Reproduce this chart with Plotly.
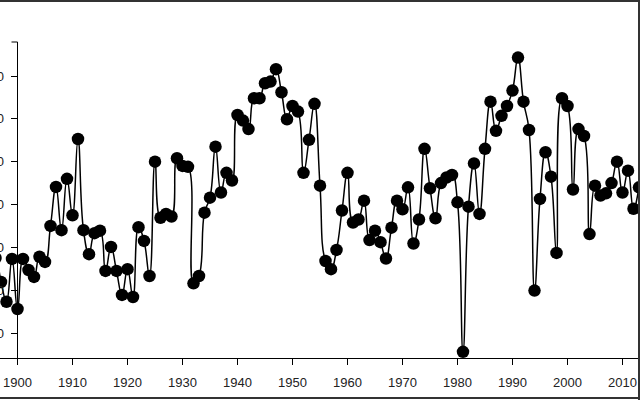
import plotly.graph_objects as go

# ---- data ----
years = list(range(1895, 2016))
values = [
    25.9, 27.5, 21.9, 17.3, 27.3, 15.6, 27.3, 24.7, 23.1, 27.8,  # 1895-1904
    26.6, 35.0, 44.1, 34.0, 46.0, 37.5, 55.3, 34.0, 28.4, 33.3,  # 1905-1914
    33.9, 24.5, 30.1, 24.5, 18.9, 24.9, 18.4, 34.7, 31.5, 23.3,  # 1915-1924
    50.0, 36.9, 37.8, 37.2, 50.8, 49.0, 48.8, 21.6, 23.3, 38.1,  # 1925-1934
    41.6, 53.5, 42.8, 47.4, 45.6, 60.9, 59.6, 57.6, 64.8, 64.8,  # 1935-1944
    68.3, 68.7, 71.6, 66.2, 59.9, 63.0, 61.7, 47.4, 55.1, 63.5,  # 1945-1954
    44.4, 26.8, 24.9, 29.4, 38.6, 47.4, 35.8, 36.5, 40.9, 31.7,  # 1955-1964
    33.9, 31.2, 27.4, 34.6, 40.9, 38.9, 44.0, 30.9, 36.5, 53.0,  # 1965-1974
    43.8, 36.8, 45.0, 46.3, 46.9, 40.5, 5.6, 39.5, 49.6, 37.8,   # 1975-1984
    53.0, 64.0, 57.2, 60.7, 63.0, 66.6, 74.3, 64.0, 57.4, 19.9,  # 1985-1994
    41.3, 52.2, 46.5, 28.7, 64.8, 63.0, 43.5, 57.6, 56.0, 33.1,  # 1995-2004
    44.4, 42.1, 42.6, 45.0, 50.0, 42.8, 47.9, 39.0, 44.0, 54.1,  # 2005-2014
    45.0,                                                        # 2015
]
x_ticks = list(range(1900, 2011, 10))
y_ticks = [10, 20, 30, 40, 50, 60, 70]

# ---- geometry (pixels) ----
W, H = 640, 400
PX_PER_YEAR = 5.5
X_1900 = 17.5
PX_PER_UNIT = 4.2833
Y_AT_10 = 333.0
AXIS_TOP, AXIS_BOTTOM = 42.0, 358.0

def val_at(py):
    return 10 + (Y_AT_10 - py) / PX_PER_UNIT

x0 = 1900 - X_1900 / PX_PER_YEAR
x1 = x0 + W / PX_PER_YEAR

fig = go.Figure()
fig.add_trace(go.Scatter(
    x=years, y=values, mode="lines+markers",
    line=dict(color="black", width=1.5, shape="spline", smoothing=1.3),
    marker=dict(color="black", size=12.5),
    showlegend=False, hoverinfo="skip",
))
fig.add_trace(go.Scatter(x=[None], y=[None], xaxis="x2", yaxis="y2",
                         showlegend=False, hoverinfo="skip"))

tickfont = dict(family="Liberation Sans, Arial, sans-serif", size=13, color="#222")

fig.update_layout(
    template="none",
    width=W, height=H,
    margin=dict(l=0, r=0, t=0, b=0, pad=0),
    paper_bgcolor="white", plot_bgcolor="rgba(0,0,0,0)",
    hovermode=False,
    xaxis=dict(domain=[0, 1], range=[x0, x1], anchor="free",
               position=(H - AXIS_BOTTOM) / H, automargin=False,
               showline=True, linecolor="black", linewidth=1,
               ticks="outside", ticklen=6, tickcolor="black", tickwidth=1,
               ticklabelstandoff=6,
               tickvals=x_ticks, ticktext=[str(t) for t in x_ticks],
               tickfont=tickfont, showgrid=False, zeroline=False),
    yaxis=dict(domain=[0, 1], range=[val_at(H), val_at(0)], visible=False,
               automargin=False, showgrid=False, zeroline=False),
    xaxis2=dict(domain=[X_1900 / W, 1], range=[x0, x1], visible=False,
                automargin=False, anchor="y2", showgrid=False, zeroline=False),
    yaxis2=dict(domain=[(H - AXIS_BOTTOM) / H, (H - AXIS_TOP) / H],
                range=[val_at(AXIS_BOTTOM), val_at(AXIS_TOP)], anchor="x2",
                automargin=False,
                showline=True, linecolor="black", linewidth=1,
                ticks="outside", ticklen=6, tickcolor="black", tickwidth=1,
                ticklabelstandoff=4,
                tickvals=y_ticks, ticktext=[str(t) for t in y_ticks],
                tickfont=tickfont, showgrid=False, zeroline=False),
    shapes=[
        dict(type="line", xref="paper", yref="paper",
             x0=(X_1900 - 6) / W, x1=X_1900 / W,
             y0=(H - AXIS_TOP) / H, y1=(H - AXIS_TOP) / H,
             line=dict(color="black", width=1)),
        dict(type="line", xref="paper", yref="paper", x0=0, x1=1,
             y0=1 - 1 / H, y1=1 - 1 / H, line=dict(color="#333", width=2)),
        dict(type="line", xref="paper", yref="paper", x0=0, x1=1,
             y0=2 / H, y1=2 / H, line=dict(color="#333", width=2)),
        dict(type="line", xref="paper", yref="paper", x0=1 - 1 / W, x1=1 - 1 / W,
             y0=0, y1=1, line=dict(color="#333", width=2)),
    ],
)

fig.write_html(
    "out.html",
    config={"displayModeBar": False, "staticPlot": True},
    post_script="document.body.style.margin='0';document.body.style.overflow='hidden';",
)
